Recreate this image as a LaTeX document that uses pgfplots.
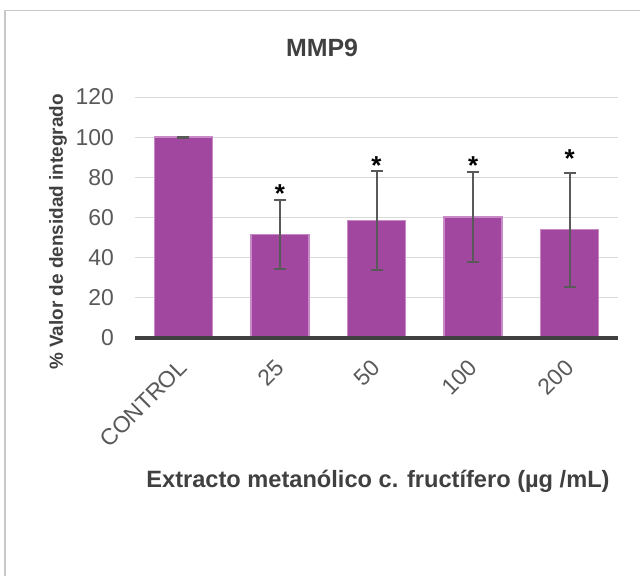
\documentclass[border=0pt]{standalone}
\usepackage{fontspec}
\setmainfont{Liberation Sans}
\usepackage{pgfplots}
\pgfplotsset{compat=1.18}
\definecolor{barfill}{HTML}{A2479F}
\definecolor{bardraw}{HTML}{C88AC6}
\definecolor{txt}{HTML}{595959}
\definecolor{ttl}{HTML}{404040}
\definecolor{gridc}{HTML}{D9D9D9}
\definecolor{framec}{HTML}{C8C8C8}
\pgfplotstableread{
x y err
0 100 0.3
1 51.5 17.1
2 58.5 24.7
3 60.3 22.5
4 54.0 28.4
}\datatable
\begin{document}
\begin{tikzpicture}
\path[use as bounding box] (0bp,0bp) rectangle (640bp,-576bp);
\draw[framec, line width=1.2bp] (5bp,-700bp) -- (5bp,-10.5bp) -- (700bp,-10.5bp);
\begin{axis}[
  at={(135bp,-338bp)}, anchor=south west,
  scale only axis, width=483bp, height=241bp,
  xmin=-0.5, xmax=4.5, ymin=0, ymax=120,
  ytick={0,20,...,120},
  xtick={0,1,2,3,4},
  xticklabels={CONTROL,25,50,100,200},
  axis x line*=bottom, axis y line*=left,
  x axis line style={draw=none},
  y axis line style={draw=none},
  major tick length=0pt,
  ymajorgrids, grid style={gridc, line width=1bp},
  tick label style={font=\fontsize{23}{26}\selectfont, color=txt},
  /pgf/number format/assume math mode=true,
  xticklabel style={xshift=-6bp, rotate=45, anchor=north east, inner sep=2bp},
  xticklabel shift=17bp,
  yticklabel style={inner sep=3bp, xshift=-18bp},
  clip=false,
]
\addplot[ybar, bar width=58bp, fill=barfill, draw=bardraw, line width=1.4bp,
  error bars/.cd, y dir=both, y explicit,
  error bar style={txt, line width=2bp},
  error mark options={rotate=90, mark size=6bp, line width=2bp, txt}]
  table[x=x, y=y, y error=err] {\datatable};
\draw[ttl, line width=3.5bp] (axis cs:-0.5,0) -- (axis cs:4.5,0);
\node[anchor=center, font=\bfseries\fontsize{26}{26}\selectfont] at (axis cs:1,72) {*};
\node[anchor=center, font=\bfseries\fontsize{26}{26}\selectfont] at (axis cs:2,86) {*};
\node[anchor=center, font=\bfseries\fontsize{26}{26}\selectfont] at (axis cs:3,86) {*};
\node[anchor=center, font=\bfseries\fontsize{26}{26}\selectfont] at (axis cs:4,89.5) {*};
\end{axis}
\node[ttl, font=\bfseries\fontsize{25}{30}\selectfont] at (322bp,-48bp) {MMP9};
\node[ttl, font=\bfseries\fontsize{23.7}{28}\selectfont] at (378bp,-481bp) {Extracto metanólico c. fructífero (µg /mL)};
\node[ttl, rotate=90, font=\bfseries\fontsize{19}{22}\selectfont] at (58bp,-232bp) {\% Valor de densidad integrado};
\end{tikzpicture}
\end{document}
